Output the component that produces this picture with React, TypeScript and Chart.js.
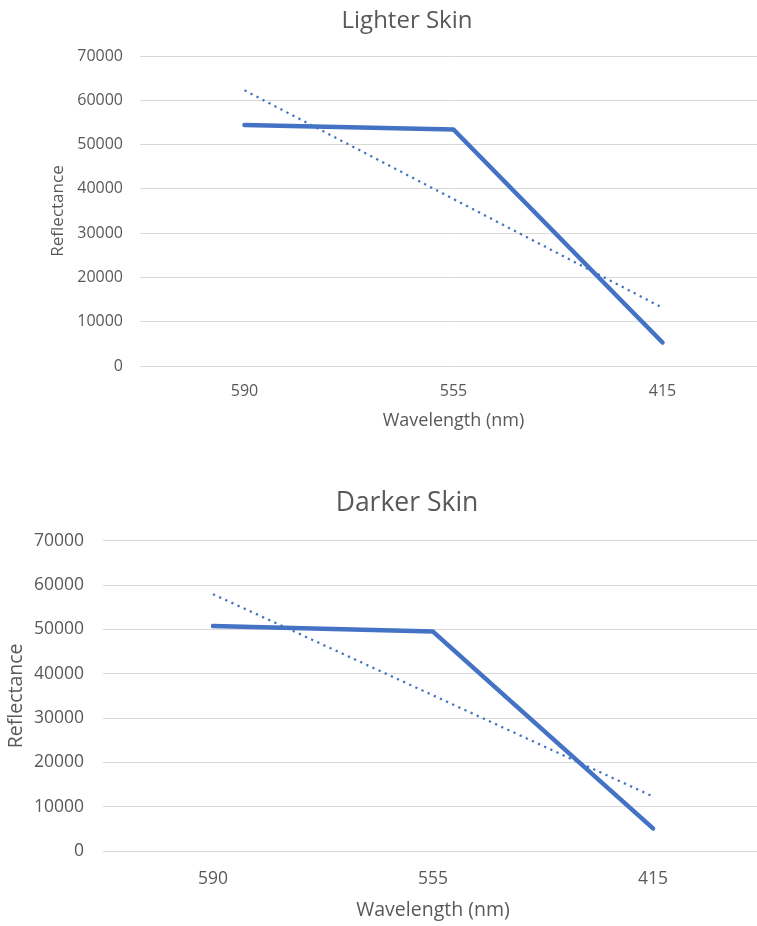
import { useEffect, useRef } from "react";
import { Chart, registerables } from "chart.js";

Chart.register(...registerables);

// Wavelength categories (nm), in the order shown on the axis
const wavelengths = ["590", "555", "415"];

// Measured reflectance per wavelength
const lighterSkin = [54400, 53400, 5300];
const darkerSkin = [50750, 49500, 5100];

// Value axis range
const yMin = 0;
const yMax = 70000;
const yStep = 10000;

const BLUE = "#4472C4";
const TEXT = "#595959";
const GRID = "#d9d9d9";
const FONT = '"Open Sans", "Noto Sans", sans-serif';

// Least-squares straight line through the series, evaluated at each category
function linearTrend(values: number[]): number[] {
  const n = values.length;
  const mx = (n - 1) / 2;
  const my = values.reduce((a, b) => a + b, 0) / n;
  let num = 0;
  let den = 0;
  values.forEach((v, i) => {
    num += (i - mx) * (v - my);
    den += (i - mx) * (i - mx);
  });
  const slope = num / den;
  return values.map((_, i) => my + slope * (i - mx));
}

type Panel = {
  title: string;
  values: number[];
  top: number;
  width: number;
  height: number;
  plot: { left: number; top: number; right: number; bottom: number };
  titlePos: { x: number; y: number };
  fonts: { title: number; tick: number; xAxis: number; yAxis: number };
  xTickCenter: number;
  xTitleCenter: number;
  yTickRight: number;
  yTitleCenter: number;
};

const panels: Panel[] = [
  {
    title: "Lighter Skin",
    values: lighterSkin,
    top: 0,
    width: 780,
    height: 450,
    plot: { left: 140, top: 56, right: 767, bottom: 366 },
    titlePos: { x: 407, y: 21 },
    fonts: { title: 24, tick: 16, xAxis: 18, yAxis: 17 },
    xTickCenter: 391,
    xTitleCenter: 421,
    yTickRight: 123,
    yTitleCenter: 58,
  },
  {
    title: "Darker Skin",
    values: darkerSkin,
    top: 460,
    width: 780,
    height: 466,
    plot: { left: 103, top: 80.7, right: 763, bottom: 391 },
    titlePos: { x: 407, y: 43 },
    fonts: { title: 26.5, tick: 17.5, xAxis: 19.5, yAxis: 19.5 },
    xTickCenter: 419,
    xTitleCenter: 450,
    yTickRight: 84,
    yTitleCenter: 16,
  },
];

// Draws the panel heading at a fixed spot above the plot
const panelTitle = {
  id: "panelTitle",
  afterDraw(chart: any, _args: any, opts: any) {
    const ctx = chart.ctx as CanvasRenderingContext2D;
    ctx.save();
    ctx.font = `${opts.size}px ${FONT}`;
    ctx.fillStyle = TEXT;
    ctx.textAlign = "center";
    ctx.textBaseline = "middle";
    ctx.fillText(opts.text, opts.x, opts.y);
    ctx.restore();
  },
};

function SkinChart({ panel }: { panel: Panel }) {
  const ref = useRef<HTMLCanvasElement>(null);

  useEffect(() => {
    const p = panel;
    const trend = linearTrend(p.values);
    const lh = 1.2;
    const xTickPad = p.xTickCenter - p.plot.bottom - (p.fonts.tick * lh) / 2;
    const xTitlePad = p.height - p.xTitleCenter - (p.fonts.xAxis * lh) / 2;
    const yTickPad = p.plot.left - p.yTickRight;
    const yTitlePad = p.yTitleCenter - (p.fonts.yAxis * lh) / 2;

    const chart = new Chart(ref.current!, {
      type: "line",
      data: {
        labels: wavelengths,
        datasets: [
          {
            data: p.values,
            borderColor: BLUE,
            borderWidth: 4.5,
            borderCapStyle: "round",
            borderJoinStyle: "round",
            pointRadius: 0,
            tension: 0,
            fill: false,
          },
          {
            data: trend,
            borderColor: BLUE,
            borderWidth: 2.25,
            borderDash: [2.25, 4.5],
            borderCapStyle: "butt",
            pointRadius: 0,
            tension: 0,
            fill: false,
          },
        ],
      },
      options: {
        responsive: false,
        animation: false,
        devicePixelRatio: 1,
        layout: {
          padding: { top: p.plot.top, left: 0, right: p.width - p.plot.right, bottom: 0 },
        },
        plugins: {
          legend: { display: false },
          tooltip: { enabled: false },
          panelTitle: { text: p.title, x: p.titlePos.x, y: p.titlePos.y, size: p.fonts.title },
        } as any,
        scales: {
          x: {
            type: "category",
            offset: true,
            grid: { display: false, drawTicks: false },
            border: { display: false },
            ticks: {
              color: TEXT,
              font: { family: FONT, size: p.fonts.tick },
              padding: xTickPad,
              maxRotation: 0,
            },
            title: {
              display: true,
              text: "Wavelength (nm)",
              color: TEXT,
              font: { family: FONT, size: p.fonts.xAxis },
              padding: { top: 0, bottom: xTitlePad },
            },
            afterFit(scale: any) {
              scale.height = p.height - p.plot.bottom;
            },
          },
          y: {
            min: yMin,
            max: yMax,
            grid: { color: GRID, lineWidth: 1, drawTicks: false },
            border: { display: false },
            ticks: {
              stepSize: yStep,
              color: TEXT,
              font: { family: FONT, size: p.fonts.tick },
              padding: yTickPad,
              callback: (v: any) => String(v),
            },
            title: {
              display: true,
              text: "Reflectance",
              color: TEXT,
              font: { family: FONT, size: p.fonts.yAxis },
              padding: { top: yTitlePad, bottom: 0 },
            },
            afterFit(scale: any) {
              scale.width = p.plot.left;
            },
          },
        },
      } as any,
      plugins: [panelTitle],
    });

    return () => chart.destroy();
  }, [panel]);

  return (
    <canvas
      ref={ref}
      width={panel.width}
      height={panel.height}
      style={{
        position: "absolute",
        left: 0,
        top: panel.top,
        width: panel.width,
        height: panel.height,
      }}
    />
  );
}

export default function App() {
  return (
    <div
      style={{
        position: "absolute",
        left: 0,
        top: 0,
        width: 757,
        height: 926,
        overflow: "hidden",
        background: "#ffffff",
      }}
    >
      {panels.map((p) => (
        <SkinChart key={p.title} panel={p} />
      ))}
    </div>
  );
}
